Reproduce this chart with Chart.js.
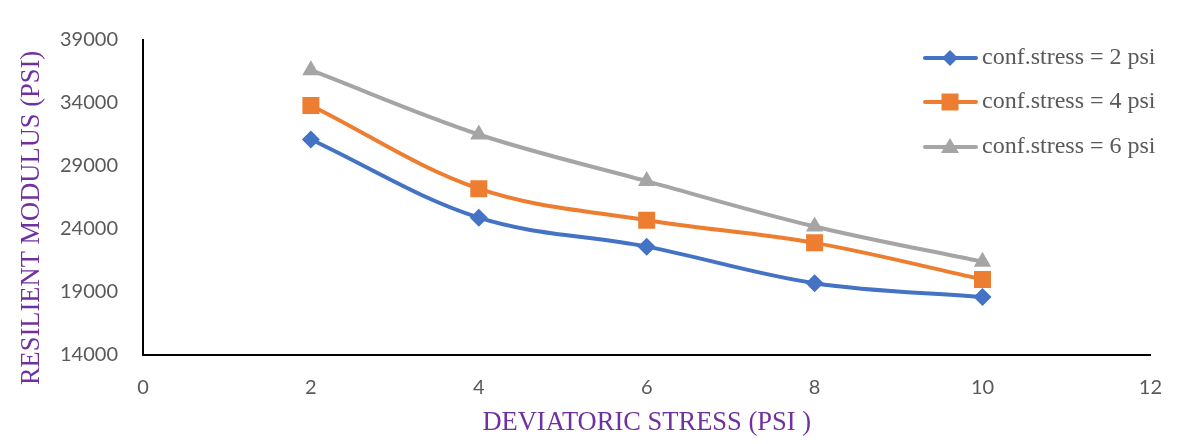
<!DOCTYPE html>
<html><head><meta charset="utf-8">
<script src="https://cdn.jsdelivr.net/npm/chart.js@4"></script>
<style>html,body{margin:0;padding:0;background:#fff}canvas{display:block}</style>
</head><body>
<canvas id="c" width="1183" height="444"></canvas>
<script>
// Deviatoric stress (psi) on the x axis
const deviatorStress = [2, 4, 6, 8, 10];
// Resilient modulus (psi) for each confining stress
const mrConf2 = [31100, 24900, 22600, 19700, 18600];
const mrConf4 = [33800, 27200, 24700, 22900, 20000];
const mrConf6 = [36600, 31500, 27800, 24200, 21400];
const seriesLabels = ['conf.stress = 2 psi', 'conf.stress = 4 psi', 'conf.stress = 6 psi'];
const xTickValues = [0, 2, 4, 6, 8, 10, 12];
const yTickValues = [14000, 19000, 24000, 29000, 34000, 39000];
const xTitle = 'DEVIATORIC STRESS (PSI )';
const yTitle = 'RESILIENT MODULUS (PSI)';

const colors = ['#4472C4', '#ED7D31', '#A5A5A5'];
const shapes = ['rectRot', 'rect', 'triangle'];
const radii = [9, 12, 10];

const toPoints = ys => deviatorStress.map((x, i) => ({x, y: ys[i]}));
const seriesValues = [mrConf2, mrConf4, mrConf6];

const datasets = seriesValues.map((vals, i) => ({
  label: seriesLabels[i],
  data: toPoints(vals),
  borderColor: colors[i],
  backgroundColor: colors[i],
  borderWidth: 4,
  pointStyle: shapes[i],
  pointRadius: radii[i],
  pointBorderWidth: 0,
  pointBackgroundColor: colors[i],
  tension: 0.35,
  fill: false
}));

function drawMarker(ctx, shape, x, y, color) {
  ctx.fillStyle = color;
  ctx.beginPath();
  if (shape === 'rectRot') {
    const r = 8;
    ctx.moveTo(x, y - r); ctx.lineTo(x + r, y); ctx.lineTo(x, y + r); ctx.lineTo(x - r, y);
  } else if (shape === 'rect') {
    const s = 8.5;
    ctx.rect(x - s, y - s, 2 * s, 2 * s);
  } else {
    ctx.moveTo(x, y - 9); ctx.lineTo(x + 9, y + 6); ctx.lineTo(x - 9, y + 6);
  }
  ctx.closePath();
  ctx.fill();
}

const decorations = {
  id: 'decorations',
  afterDraw(chart) {
    const ctx = chart.ctx;
    const area = chart.chartArea;
    ctx.save();
    // axis titles
    ctx.fillStyle = '#7030A0';
    ctx.font = '26.5px "Liberation Serif", "Times New Roman", serif';
    ctx.textAlign = 'center';
    ctx.textBaseline = 'middle';
    ctx.fillText(xTitle, (area.left + area.right) / 2, 423);
    ctx.translate(32, 218);
    ctx.rotate(-Math.PI / 2);
    ctx.fillText(yTitle, 0, 0);
    ctx.restore();

    // legend
    ctx.save();
    ctx.font = '24px "Liberation Serif", "Times New Roman", serif';
    ctx.textBaseline = 'middle';
    ctx.textAlign = 'left';
    const rows = [58, 102, 147];
    seriesLabels.forEach((lab, i) => {
      const y = rows[i];
      ctx.strokeStyle = colors[i];
      ctx.lineWidth = 4;
      ctx.lineCap = 'round';
      ctx.beginPath();
      ctx.moveTo(925, y); ctx.lineTo(976, y);
      ctx.stroke();
      drawMarker(ctx, shapes[i], 950, y, colors[i]);
      ctx.fillStyle = '#595959';
      ctx.fillText(lab, 982, y);
    });
    ctx.restore();
  }
};

new Chart(document.getElementById('c'), {
  type: 'line',
  data: {datasets},
  plugins: [decorations],
  options: {
    responsive: false,
    animation: false,
    devicePixelRatio: 1,
    layout: {padding: {top: 40, right: 32, left: 0, bottom: 0}},
    plugins: {legend: {display: false}, tooltip: {enabled: false}},
    scales: {
      x: {
        type: 'linear',
        min: 0, max: 12,
        afterBuildTicks: s => { s.ticks = xTickValues.map(v => ({value: v})); },
        afterFit: s => { s.height = 89; },
        grid: {display: false, drawTicks: false},
        border: {display: true, color: '#000', width: 2},
        ticks: {color: '#595959', padding: 21, font: {family: 'Lato, "Open Sans", sans-serif', size: 20}, maxRotation: 0}
      },
      y: {
        min: 14000, max: 39000,
        afterBuildTicks: s => { s.ticks = yTickValues.map(v => ({value: v})); },
        afterFit: s => { s.width = 143; },
        grid: {display: false, drawTicks: false},
        border: {display: true, color: '#000', width: 2},
        ticks: {color: '#595959', padding: 25, font: {family: 'Lato, "Open Sans", sans-serif', size: 20}, callback: v => String(v)}
      }
    }
  }
});
</script>
</body></html>
